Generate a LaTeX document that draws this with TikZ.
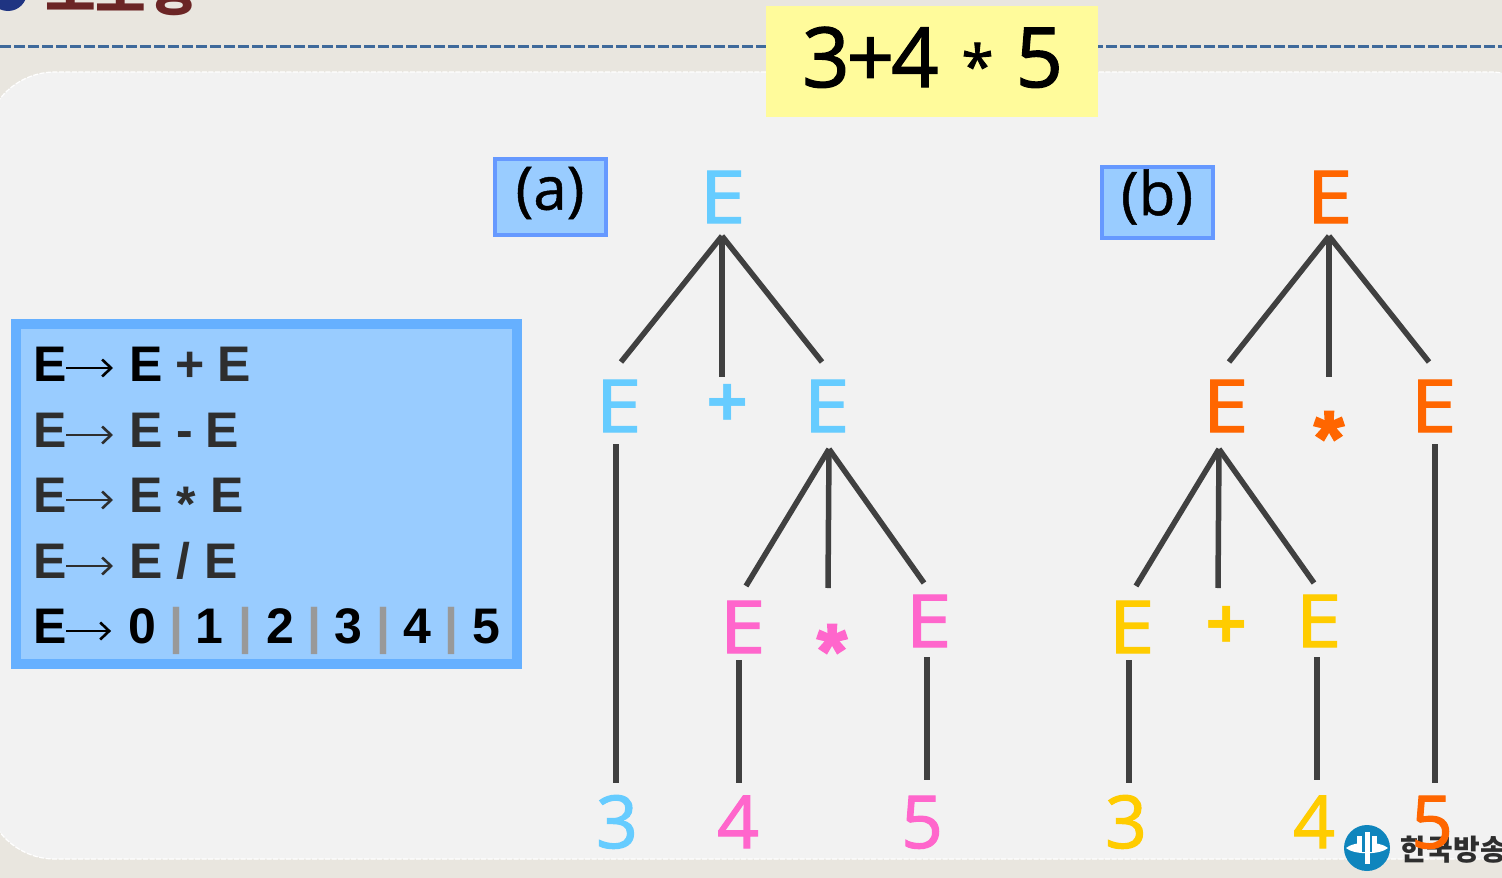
\documentclass[tikz,border=0pt]{standalone}
\usepackage{fontspec}
\setmainfont{Open Sans}
\newfontfamily\arialf{Liberation Sans}
\newfontfamily\arialheavy[RawFeature={embolden=3}]{Liberation Sans Bold}
\newfontfamily\krf{Noto Sans CJK KR}
\newfontfamily\heavyf[RawFeature={embolden=1.6}]{Open Sans}
\newfontfamily\labelf[RawFeature={embolden=0.8}]{Open Sans}
\newfontfamily\wideE[RawFeature={embolden=1.6},FakeStretch=1.13]{Open Sans}
\usetikzlibrary{arrows.meta}
\definecolor{pagebg}{HTML}{E9E6DF}
\definecolor{panelbg}{HTML}{F2F2F2}
\definecolor{dashblue}{HTML}{3F6A9B}
\definecolor{titlered}{HTML}{6B2525}
\definecolor{bannerbg}{HTML}{FFFB9B}
\definecolor{boxfill}{HTML}{99CCFF}
\definecolor{boxline}{HTML}{6699FF}
\definecolor{gramline}{HTML}{66B0FF}
\definecolor{treeline}{HTML}{404040}
\definecolor{cblue}{HTML}{66CCFF}
\definecolor{cpink}{HTML}{FF66CC}
\definecolor{corange}{HTML}{FF6600}
\definecolor{cyellow}{HTML}{FFCC00}
\definecolor{logoblue}{HTML}{0F85BD}
\definecolor{txtdark}{HTML}{2E2E2E}
\tikzset{
  treeE/.style={inner sep=0pt,outer sep=0pt,anchor=base,font=\wideE\fontsize{73}{73}\selectfont},
  treeglyph/.style={inner sep=0pt,outer sep=0pt,anchor=base,font=\heavyf\fontsize{73}{73}\selectfont},
  opplus/.style={inner sep=0pt,outer sep=0pt,anchor=base,font=\fontsize{74}{74}\selectfont\bfseries},
  opstar/.style={inner sep=0pt,outer sep=0pt,anchor=base,font=\arialheavy\fontsize{76}{76}\selectfont},
  edge/.style={draw=treeline,line width=5.5pt},
  labbox/.style={draw=boxline,fill=boxfill,line width=4pt},
  labtext/.style={inner sep=0pt,outer sep=0pt,font=\labelf\fontsize{60}{60}\selectfont},
  gram/.style={inner sep=0pt,outer sep=0pt,anchor=base west,font=\arialf\fontsize{50}{50}\selectfont\bfseries},
  gramc/.style={inner sep=0pt,outer sep=0pt,anchor=base,font=\arialf\fontsize{50}{50}\selectfont\bfseries},
  gramarrow/.style={draw=#1,line width=2.6pt,-{Straight Barb[length=9pt,width=17pt,line width=2.6pt]},shorten >=16pt},
}
\newcommand{\gstar}{\raisebox{-9pt}{*}}
\newcommand{\tE}{E\kern3pt}
\begin{document}
\begin{tikzpicture}[x=1pt,y=-1pt]
\clip (0,0) rectangle (1502,878);
\fill[pagebg] (0,0) rectangle (1502,878);
% panel
\draw[fill=panelbg,draw=white,line width=1.2pt,dash pattern=on 5pt off 1.5pt,rounded corners=70pt] (-15,72) rectangle (1560,859);
% cut-off heading
\fill[dashblue!70!blue!70!black] (8,-8) circle (19);
\node[inner sep=0pt,anchor=base west,text=titlered,font=\krf\bfseries\fontsize{55}{55}\selectfont] (title) at (45,10) {모호성};
% dashed rule
\draw[dashblue,line width=3pt,dash pattern=on 11pt off 3pt] (0,46) -- (1502,46);
% banner
\fill[bannerbg] (766,6) rectangle (1098,116.5);
\node[inner sep=0pt,anchor=base west,font=\heavyf\fontsize{83}{83}\selectfont] (expr) at (802,87) {3\hspace{-3pt}+\hspace{-3pt}4\hspace{23pt}\raisebox{0pt}{\fontsize{58}{58}\selectfont *}\hspace{22pt}5};
% label boxes
\draw[labbox] (495,159) rectangle (606,235);
\node[labtext] (la) at (550,193) {(a)};
\draw[labbox] (1102,167) rectangle (1213,238);
\node[labtext] (lb) at (1157,197) {(b)};
% grammar box
\draw[draw=gramline,fill=boxfill,line width=10pt] (16,324) rectangle (517,664);
\node[gram,text=black] (g1l) at (33,381) {E};
\node[gram,text=txtdark] (g1r) at (129,381) {\textcolor{black}{E}\hspace{-1pt} + \hspace{-1pt}E};
\draw[gramarrow=black] (g1l.east |- 0,368) -- (g1r.west |- 0,368);
\node[gram,text=txtdark] (g2l) at (33,447) {E};
\node[gram,text=txtdark] (g2r) at (129,447) {E - \hspace{-1pt}E};
\draw[gramarrow=txtdark] (g2l.east |- 0,435) -- (g2r.west |- 0,435);
\node[gram,text=txtdark] (g3l) at (33,512) {E};
\node[gram,text=txtdark] (g3r) at (129,512) {E \gstar{} \hspace{1pt}E};
\draw[gramarrow=txtdark] (g3l.east |- 0,500) -- (g3r.west |- 0,500);
\node[gram,text=txtdark] (g4l) at (33,578) {E};
\node[gram,text=txtdark] (g4r) at (129,578) {E / E};
\draw[gramarrow=txtdark] (g4l.east |- 0,566) -- (g4r.west |- 0,566);
\node[gram,text=black] (g5l) at (33,643) {E};
\node[gramc,text=black] (d0) at (142,643) {0};
\draw[gramarrow=black,shorten >=17pt] (g5l.east |- 0,631) -- (d0.west |- 0,631);
\node[gramc,text=black!40] (b1) at (176,643) {|};
\node[gramc,text=black] (d1) at (209,643) {1};
\node[gramc,text=black!40] (b2) at (245,643) {|};
\node[gramc,text=black] (d2) at (280,643) {2};
\node[gramc,text=black!40] (b3) at (314,643) {|};
\node[gramc,text=black] (d3) at (348,643) {3};
\node[gramc,text=black!40] (b4) at (383,643) {|};
\node[gramc,text=black] (d4) at (417,643) {4};
\node[gramc,text=black!40] (b5) at (451,643) {|};
\node[gramc,text=black] (d5) at (486,643) {5};
% tree a
\node[treeE,text=cblue,text height=52pt,text depth=13pt] (aR) at (724,223) {\tE};
\node[treeE,text=cblue,text height=70pt,text depth=12pt] (aL) at (620,432) {\tE};
\node[opplus,text=cblue,text height=51pt] (aP) at (728,428) {+};
\node[treeE,text=cblue,text height=70pt,text depth=17pt] (aM) at (828,432) {\tE};
\node[treeE,text=cpink,text height=67pt,text depth=7pt] (aE1) at (744,653) {\tE};
\node[opstar,text=cpink,text height=89pt] (aS) at (832,677) {*};
\node[treeE,text=cpink,text height=64pt,text depth=10pt] (aE2) at (930,647) {\tE};
\node[treeglyph,text=cblue,text height=65pt] (a3) at (617,848) {3};
\node[treeglyph,text=cpink,text height=65pt] (a4) at (738,848) {4};
\node[treeglyph,text=cpink,text height=68pt] (a5) at (922,848) {5};
\draw[edge] ([xshift=-2pt]aR.south) -- ([xshift=1pt]aL.north);
\draw[edge] ([xshift=-2pt]aR.south) -- ([xshift=-6pt]aP.north);
\draw[edge] ([xshift=-2pt]aR.south) -- ([xshift=-6pt]aM.north);
\draw[edge] ([xshift=-4pt]aL.south) -- ([xshift=-1pt]a3.north);
\draw[edge] ([xshift=1pt]aM.south) -- ([xshift=2pt]aE1.north);
\draw[edge] ([xshift=1pt]aM.south) -- ([xshift=-4pt]aS.north);
\draw[edge] ([xshift=1pt]aM.south) -- ([xshift=-6pt]aE2.north);
\draw[edge] ([xshift=-5pt]aE1.south) -- ([xshift=1pt]a4.north);
\draw[edge] ([xshift=-3pt]aE2.south) -- ([xshift=5pt]a5.north);
% tree b
\node[treeE,text=corange,text height=52pt,text depth=13pt] (bR) at (1331,223) {\tE};
\node[treeE,text=corange,text height=70pt,text depth=17pt] (bL) at (1227,432) {\tE};
\node[opstar,text=corange,text height=87pt] (bS) at (1329,464) {*};
\node[treeE,text=corange,text height=70pt,text depth=12pt] (bM) at (1435,432) {\tE};
\node[treeE,text=cyellow,text height=67pt,text depth=7pt] (bE1) at (1133,653) {\tE};
\node[opplus,text=cyellow,text height=62pt] (bP) at (1227,650) {+};
\node[treeE,text=cyellow,text height=64pt,text depth=10pt] (bE2) at (1320,647) {\tE};
\node[treeglyph,text=cyellow,text height=65pt] (b3) at (1126,848) {3};
\node[treeglyph,text=cyellow,text height=68pt] (b4) at (1314,848) {4};
\draw[edge] ([xshift=-2pt]bR.south) -- ([xshift=2pt]bL.north);
\draw[edge] ([xshift=-2pt]bR.south) -- (bS.north);
\draw[edge] ([xshift=-2pt]bR.south) -- ([xshift=-6pt]bM.north);
\draw[edge] ([xshift=-8pt]bL.south) -- ([xshift=3pt]bE1.north);
\draw[edge] ([xshift=-8pt]bL.south) -- ([xshift=-9pt]bP.north);
\draw[edge] ([xshift=-8pt]bL.south) -- ([xshift=-6pt]bE2.north);
\draw[edge] ([xshift=-4pt]bE1.south) -- ([xshift=3pt]b3.north);
\draw[edge] ([xshift=-3pt]bE2.south) -- ([xshift=3pt]b4.north);
% logo
\fill[logoblue] (1367,848) circle (23);
\fill[white] (1346,848) .. controls (1354,841) and (1380,841) .. (1388,848) .. controls (1380,855) and (1354,855) .. (1346,848) -- cycle;
\fill[white] (1357,836) rectangle (1362,849);
\fill[white] (1372,836) rectangle (1377,849);
\fill[white] (1364.5,832) rectangle (1369.5,864);
\fill[logoblue] (1362,838) rectangle (1364.5,852);
\fill[logoblue] (1369.5,838) rectangle (1372,852);
\node[inner sep=0pt,anchor=base west,text=txtdark,font=\krf\bfseries\fontsize{29}{29}\selectfont] (logotext) at (1400,860) {한국방송};
% final 5 of tree b over the logo
\node[treeglyph,text=corange,text height=65pt] (b5) at (1432,848) {5};
\draw[edge] (bM.south) -- ([xshift=3pt]b5.north);
\end{tikzpicture}
\end{document}
